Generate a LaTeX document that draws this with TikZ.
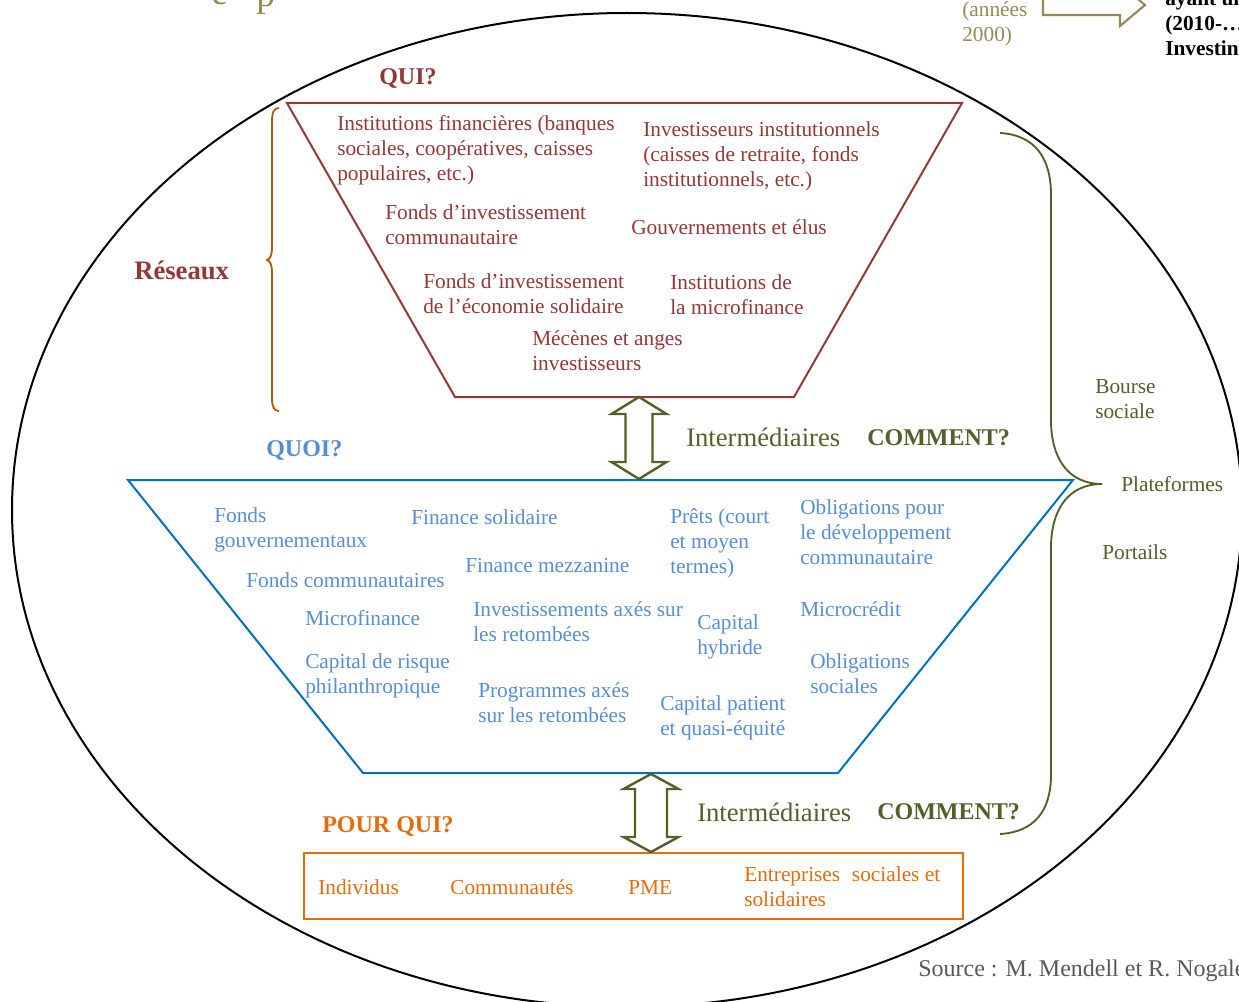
\documentclass[tikz,border=0pt]{standalone}
\usepackage{fontspec}
\setmainfont{Liberation Serif}
\definecolor{dred}{RGB}{149,55,53}
\definecolor{lblue}{RGB}{85,142,213}
\definecolor{dblue}{RGB}{0,112,192}
\definecolor{olivec}{RGB}{79,98,40}
\definecolor{orng}{RGB}{228,108,10}
\definecolor{khaki}{RGB}{148,138,84}
\definecolor{bracec}{RGB}{178,92,10}
\definecolor{srcgray}{RGB}{89,89,89}
\begin{document}
\begin{tikzpicture}[x=0.75pt,y=-0.75pt,
  lbl/.style={anchor=base west, inner sep=0pt, align=left, font=\fontsize{16}{18.75}\selectfont},
  redt/.style={lbl, text=dred},
  bluet/.style={lbl, text=lblue},
  olivet/.style={lbl, text=olivec},
  oranget/.style={lbl, text=orng},
  headlbl/.style={anchor=base west, inner sep=0pt, font=\fontsize{18}{21}\selectfont\bfseries},
  interm/.style={anchor=base west, inner sep=0pt, text=olivec, font=\fontsize{20}{24}\selectfont},
  trapline/.style={line width=1.5pt, line join=miter},
  blockarrow/.style={draw=olivec, fill=white, line width=1.8pt, line join=miter},
  bracepath/.style={line width=1.4pt}
]
\useasboundingbox (0,0) rectangle (1239,1002);
\clip (0,0) rectangle (1239,1002);

% top fragments (cut off at the top edge)
\node[anchor=base west, inner sep=0pt, text=khaki, font=\fontsize{28}{30}\selectfont] (ttl1) at (211,5) {e};
\node[anchor=base west, inner sep=0pt, text=khaki, font=\fontsize{28}{30}\selectfont] (ttl2) at (256,7) {p};
\node[lbl, text=khaki] (annees) at (962,42) {(années\\2000)};
\draw[draw=khaki, line width=1.6pt, line join=miter] (1043,-5) -- (1043,15) -- (1120,15) -- (1120,26) -- (1145,5) -- (1120,-16) -- (1120,-5);
\node[lbl, font=\fontsize{16}{18.75}\selectfont\bfseries] (ayant) at (1165,56) {ayant un\\(2010-…)\\Investing};

% big ellipse
\draw[line width=1.5pt] (627,510) ellipse [x radius=615, y radius=497];

% top trapezoid
\coordinate (t1) at (287,103); \coordinate (t2) at (962,103);
\coordinate (t3) at (794,397); \coordinate (t4) at (455,397);
\draw[trapline, draw=dred] (t1) -- (t2) -- (t3) -- (t4) -- cycle;

% middle trapezoid
\coordinate (m1) at (128,480); \coordinate (m2) at (1073,480);
\coordinate (m3) at (838,773); \coordinate (m4) at (363,773);
\draw[trapline, draw=dblue] (m1) -- (m2) -- (m3) -- (m4) -- cycle;

% bottom box
\node[draw=orng, line width=1.5pt, minimum width=659*0.75pt, minimum height=66*0.75pt, inner sep=0pt, anchor=north west] (box) at (303,852) {};

% labels
\node[headlbl, text=dred] (qui) at (379,85) {QUI?};
\node[anchor=base west, inner sep=0pt, text=dred, font=\fontsize{20}{24}\selectfont\bfseries] (reseaux) at (134,279) {Réseaux};
\node[headlbl, text=lblue] (quoi) at (266,456) {QUOI?};
\node[headlbl, text=orng] (pourqui) at (322,832) {POUR QUI?};

% left brace
\draw[bracepath, draw=bracec] (279,108) .. controls (274,108) and (272,112) .. (272,122) -- (272,248) .. controls (272,255) and (270,259) .. (267,260) .. controls (270,261) and (272,265) .. (272,272) -- (272,398) .. controls (272,407) and (274,411) .. (279,411);

% right brace
\coordinate (rbtip) at (1102,484);
\draw[bracepath, draw=olivec] (1000,133) .. controls (1035,135) and (1051,158) .. (1051,195) -- (1051,420) .. controls (1051,458) and (1068,484) .. (rbtip) .. controls (1068,484) and (1051,510) .. (1051,548) -- (1051,775) .. controls (1051,810) and (1035,832) .. (1000,834);

% top trapezoid texts (coordinates = baseline of last line)
\node[redt] (inst) at (337,181) {Institutions financières (banques\\sociales, coopératives, caisses\\populaires, etc.)};
\node[redt] (invinst) at (643,187) {Investisseurs institutionnels\\(caisses de retraite, fonds\\institutionnels, etc.)};
\node[redt] (fic) at (385,244) {Fonds d’investissement\\communautaire};
\node[redt] (gouv) at (631,234) {Gouvernements et élus};
\node[redt] (fies) at (423,313) {Fonds d’investissement\\de l’économie solidaire};
\node[redt] (imf) at (670,314) {Institutions de\\la microfinance};
\node[redt] (mec) at (532,370) {Mécènes et anges\\investisseurs};

% middle trapezoid texts
\node[bluet] (fg) at (214,547) {Fonds\\gouvernementaux};
\node[bluet] (fs) at (411,524) {Finance solidaire};
\node[bluet] (prets) at (670,573) {Prêts (court\\et moyen\\termes)};
\node[bluet] (oblig) at (800,564) {Obligations pour\\le développement\\communautaire};
\node[bluet] (fc) at (246,587) {Fonds communautaires};
\node[bluet] (fm) at (465,572) {Finance mezzanine};
\node[bluet] (mf) at (305,625) {Microfinance};
\node[bluet] (inv) at (473,641) {Investissements axés sur\\les retombées};
\node[bluet] (ch) at (697,654) {Capital\\hybride};
\node[bluet] (mc) at (800,616) {Microcrédit};
\node[bluet] (crp) at (305,693) {Capital de risque\\philanthropique};
\node[bluet] (os) at (810,693) {Obligations\\sociales};
\node[bluet] (prog) at (478,722) {Programmes axés\\sur les retombées};
\node[bluet] (cp) at (660,735) {Capital patient\\et quasi-équité};

% bottom box texts
\node[oranget] (ind) at (318,894) {Individus};
\node[oranget] (com) at (450,894) {Communautés};
\node[oranget] (pme) at (628,894) {PME};
\node[oranget] (ent) at (744,906) {Entreprises\hspace{0.3em} sociales et\\solidaires};

% double arrows
\coordinate (a1top) at (639,397); \coordinate (a1bot) at (639,479);
\draw[blockarrow] (a1top) -- ++(27.5,17) -- ++(-14,0) -- ++(0,48) -- ++(14,0) -- (a1bot) -- ++(-27.5,-17) -- ++(14,0) -- ++(0,-48) -- ++(-14,0) -- cycle;
\coordinate (a2top) at (651,774); \coordinate (a2bot) at (651,852);
\draw[blockarrow] (a2top) -- ++(27.5,15) -- ++(-11.5,0) -- ++(0,48) -- ++(11.5,0) -- (a2bot) -- ++(-27.5,-15) -- ++(11.5,0) -- ++(0,-48) -- ++(-11.5,0) -- cycle;

% intermediaires / comment
\node[interm] (int1) at (686,446) {Intermédiaires};
\node[headlbl, text=olivec] (com1) at (867,445) {COMMENT?};
\node[interm] (int2) at (697,821) {Intermédiaires};
\node[headlbl, text=olivec] (com2) at (877,819) {COMMENT?};

% right labels
\node[olivet] (bourse) at (1095,418) {Bourse\\sociale};
\node[olivet] (plat) at (1121,491) {Plateformes};
\node[olivet] (port) at (1102,559) {Portails};

% source
\node[anchor=base west, inner sep=0pt, text=srcgray, font=\fontsize{18}{21}\selectfont] (src) at (918,976) {Source : M. Mendell et R. Nogales};
\end{tikzpicture}
\end{document}
